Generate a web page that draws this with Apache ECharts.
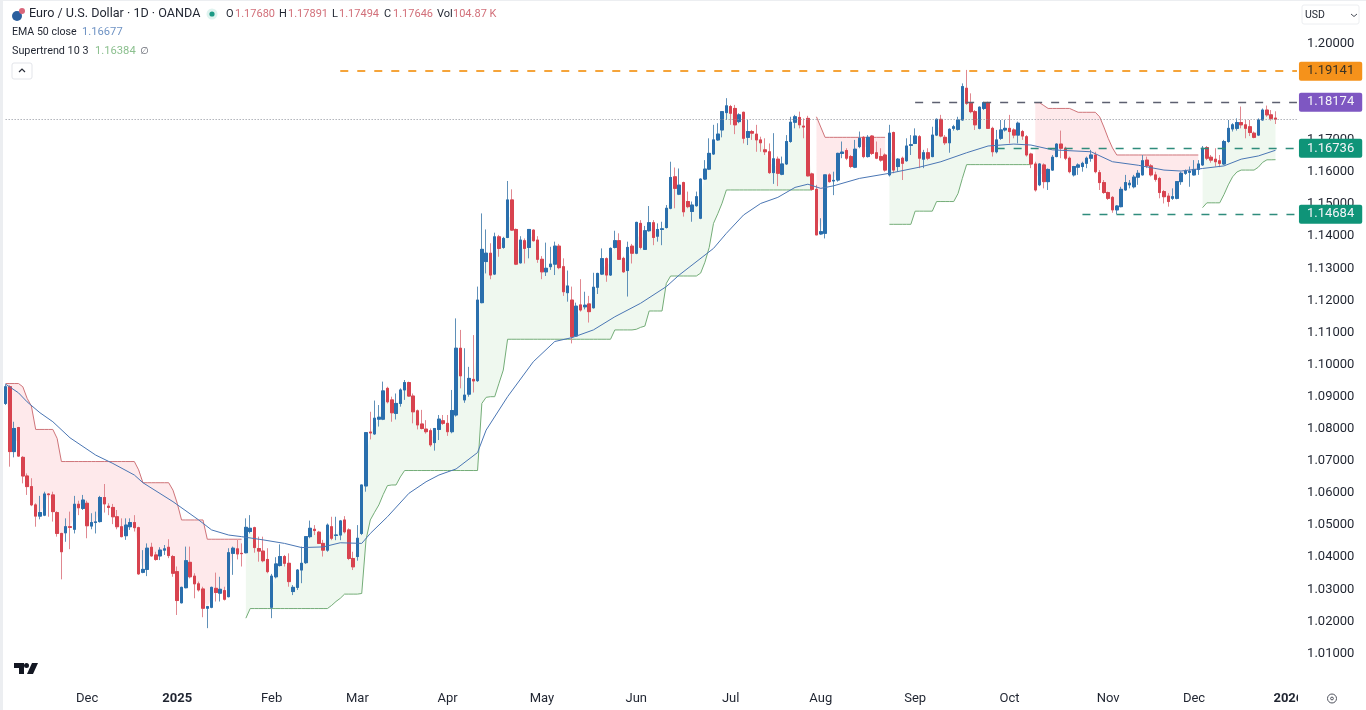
<!DOCTYPE html>
<html><head><meta charset="utf-8"><title>EUR/USD</title>
<style>html,body{margin:0;padding:0;background:#fff}#c{width:1366px;height:710px}</style>
<script src="https://cdn.jsdelivr.net/npm/echarts@6/dist/echarts.min.js"></script>
</head><body><div id="c"></div>
<script>
// rows are open, high, low, close
const barsNovDec = [[1.0879,1.0939,1.0874,1.0931],[1.0931,1.0936,1.0682,1.0729],[1.0729,1.0822,1.0711,1.0801],[1.0804,1.0806,1.0713,1.0715],[1.0711,1.0715,1.0630,1.0653],[1.0653,1.0661,1.0594,1.0620],[1.0620,1.0646,1.0559,1.0563],[1.0563,1.0568,1.0495,1.0528],[1.0528,1.0591,1.0518,1.0539],[1.0531,1.0604,1.0528,1.0597],
[1.0597,1.0599,1.0526,1.0595],[1.0594,1.0604,1.0511,1.0542],[1.0539,1.0543,1.0464,1.0474],[1.0474,1.0476,1.0331,1.0417],[1.0476,1.0521,1.0448,1.0495],[1.0495,1.0542,1.0425,1.0493],[1.0487,1.0591,1.0474,1.0565],[1.0565,1.0576,1.0531,1.0554],[1.0552,1.0594,1.0547,1.0578],[1.0568,1.0576,1.0459,1.0498],
[1.0497,1.0537,1.0487,1.0508],[1.0508,1.0542,1.0474,1.0510],[1.0511,1.0591,1.0508,1.0586],[1.0586,1.0628,1.0539,1.0566],[1.0559,1.0568,1.0531,1.0555],[1.0555,1.0566,1.0503,1.0526],[1.0526,1.0547,1.0487,1.0495],[1.0495,1.0521,1.0462,1.0464],[1.0467,1.0521,1.0454,1.0500],[1.0495,1.0521,1.0485,1.0508],
[1.0508,1.0531,1.0480,1.0492],[1.0492,1.0495,1.0345,1.0348],[1.0353,1.0422,1.0350,1.0362],[1.0362,1.0443,1.0341,1.0428],[1.0431,1.0445,1.0402,1.0404],[1.0407,1.0417,1.0389,1.0393],[1.0404,1.0431,1.0391,1.0422],[1.0422,1.0438,1.0407,1.0426],[1.0431,1.0456,1.0397,1.0405],[1.0402,1.0407,1.0339,1.0350]];
const barsJanMar = [[1.0355,1.0371,1.0220,1.0265],[1.0258,1.0308,1.0256,1.0306],[1.0305,1.0433,1.0303,1.0389],[1.0384,1.0433,1.0334,1.0339],[1.0341,1.0350,1.0272,1.0317],[1.0317,1.0324,1.0293,1.0298],[1.0301,1.0308,1.0213,1.0241],[1.0241,1.0248,1.0179,1.0246],[1.0244,1.0308,1.0241,1.0306],[1.0303,1.0352,1.0262,1.0290],
[1.0288,1.0339,1.0262,1.0300],[1.0296,1.0308,1.0265,1.0269],[1.0277,1.0428,1.0275,1.0414],[1.0412,1.0433,1.0345,1.0428],[1.0426,1.0454,1.0393,1.0410],[1.0412,1.0443,1.0371,1.0411],[1.0414,1.0521,1.0412,1.0493],[1.0480,1.0531,1.0474,1.0490],[1.0492,1.0495,1.0414,1.0430],[1.0427,1.0464,1.0386,1.0419],
[1.0419,1.0464,1.0384,1.0389],[1.0393,1.0428,1.0350,1.0355],[1.0244,1.0348,1.0210,1.0341],[1.0339,1.0400,1.0334,1.0379],[1.0374,1.0440,1.0371,1.0402],[1.0402,1.0407,1.0371,1.0381],[1.0381,1.0412,1.0308,1.0324],[1.0293,1.0313,1.0282,1.0306],[1.0306,1.0363,1.0298,1.0360],[1.0360,1.0433,1.0319,1.0381],
[1.0383,1.0464,1.0379,1.0464],[1.0464,1.0514,1.0459,1.0490],[1.0487,1.0500,1.0469,1.0483],[1.0478,1.0482,1.0441,1.0443],[1.0443,1.0454,1.0402,1.0422],[1.0422,1.0505,1.0417,1.0500],[1.0495,1.0526,1.0453,1.0459],[1.0468,1.0526,1.0453,1.0469],[1.0469,1.0516,1.0453,1.0513],[1.0516,1.0528,1.0474,1.0479],
[1.0485,1.0490,1.0391,1.0396],[1.0396,1.0417,1.0360,1.0370],[1.0402,1.0500,1.0389,1.0459],[1.0474,1.0625,1.0469,1.0625],[1.0622,1.0788,1.0604,1.0788],[1.0790,1.0853,1.0767,1.0787],[1.0784,1.0888,1.0781,1.0833],[1.0830,1.0874,1.0807,1.0836],[1.0830,1.0947,1.0827,1.0918],[1.0926,1.0931,1.0879,1.0884],
[1.0890,1.0900,1.0822,1.0850],[1.0848,1.0910,1.0829,1.0879],[1.0879,1.0926,1.0869,1.0921],[1.0921,1.0952,1.0890,1.0944],[1.0944,1.0947,1.0900,1.0902],[1.0902,1.0910,1.0817,1.0853],[1.0856,1.0860,1.0798,1.0812],[1.0815,1.0859,1.0798,1.0801],[1.0799,1.0827,1.0785,1.0791],[1.0794,1.0801,1.0744,1.0750],
[1.0757,1.0801,1.0732,1.0801],[1.0798,1.0843,1.0765,1.0830]];
const barsAprJun = [[1.0825,1.0843,1.0812,1.0817],[1.0817,1.0843,1.0778,1.0791],[1.0791,1.0921,1.0786,1.0857],[1.0843,1.1144,1.0838,1.1051],[1.1051,1.1108,1.0926,1.0965],[1.0890,1.1051,1.0881,1.0905],[1.0908,1.0993,1.0900,1.0957],[1.0954,1.1092,1.0913,1.0949],[1.0950,1.1243,1.0946,1.1201],[1.1193,1.1471,1.1191,1.1359],
[1.1321,1.1421,1.1284,1.1347],[1.1347,1.1378,1.1266,1.1279],[1.1282,1.1411,1.1279,1.1398],[1.1398,1.1404,1.1336,1.1362],[1.1365,1.1398,1.1361,1.1393],[1.1396,1.1572,1.1394,1.1513],[1.1513,1.1546,1.1417,1.1419],[1.1421,1.1424,1.1310,1.1313],[1.1317,1.1400,1.1315,1.1388],[1.1386,1.1393,1.1315,1.1362],
[1.1365,1.1421,1.1331,1.1421],[1.1419,1.1421,1.1383,1.1386],[1.1388,1.1400,1.1317,1.1328],[1.1328,1.1338,1.1266,1.1289],[1.1289,1.1380,1.1276,1.1300],[1.1305,1.1367,1.1295,1.1313],[1.1313,1.1383,1.1279,1.1369],[1.1369,1.1376,1.1297,1.1302],[1.1305,1.1331,1.1214,1.1227],[1.1224,1.1293,1.1196,1.1245],
[1.1201,1.1243,1.1066,1.1087],[1.1089,1.1193,1.1087,1.1182],[1.1186,1.1266,1.1165,1.1170],[1.1180,1.1227,1.1172,1.1185],[1.1189,1.1214,1.1131,1.1165],[1.1177,1.1286,1.1175,1.1241],[1.1241,1.1286,1.1220,1.1284],[1.1282,1.1362,1.1279,1.1330],[1.1330,1.1334,1.1258,1.1279],[1.1279,1.1365,1.1276,1.1362],
[1.1365,1.1417,1.1362,1.1386],[1.1386,1.1409,1.1326,1.1328],[1.1331,1.1336,1.1286,1.1289],[1.1293,1.1383,1.1212,1.1365],[1.1369,1.1376,1.1315,1.1347],[1.1347,1.1445,1.1344,1.1443],[1.1440,1.1450,1.1359,1.1365],[1.1359,1.1432,1.1357,1.1417],[1.1417,1.1494,1.1414,1.1442],[1.1442,1.1450,1.1372,1.1396],
[1.1400,1.1440,1.1383,1.1421],[1.1421,1.1445,1.1372,1.1423],[1.1427,1.1497,1.1424,1.1487],[1.1487,1.1632,1.1484,1.1583],[1.1585,1.1614,1.1487,1.1549],[1.1531,1.1611,1.1528,1.1559],[1.1567,1.1570,1.1461,1.1476],[1.1508,1.1539,1.1487,1.1492],[1.1477,1.1508,1.1445,1.1497],[1.1495,1.1539,1.1492,1.1523],
[1.1456,1.1580,1.1453,1.1578],[1.1578,1.1637,1.1575,1.1609],[1.1609,1.1705,1.1606,1.1658],[1.1656,1.1747,1.1653,1.1700],[1.1700,1.1752,1.1697,1.1718],[1.1731,1.1788,1.1708,1.1788],[1.1785,1.1830,1.1762,1.1806]];
const barsJulSep = [[1.1804,1.1809,1.1747,1.1783],[1.1798,1.1809,1.1718,1.1747],[1.1757,1.1783,1.1752,1.1778],[1.1786,1.1788,1.1689,1.1705],[1.1708,1.1762,1.1684,1.1726],[1.1726,1.1731,1.1700,1.1721],[1.1718,1.1747,1.1663,1.1700],[1.1700,1.1710,1.1663,1.1691],[1.1669,1.1705,1.1653,1.1663],[1.1663,1.1689,1.1594,1.1598],
[1.1598,1.1721,1.1563,1.1641],[1.1640,1.1648,1.1556,1.1596],[1.1593,1.1648,1.1590,1.1625],[1.1625,1.1715,1.1622,1.1695],[1.1695,1.1772,1.1691,1.1755],[1.1755,1.1778,1.1736,1.1772],[1.1770,1.1788,1.1736,1.1747],[1.1743,1.1767,1.1705,1.1740],[1.1767,1.1775,1.1586,1.1588],[1.1594,1.1598,1.1542,1.1546],
[1.1546,1.1560,1.1404,1.1404],[1.1407,1.1456,1.1404,1.1414],[1.1409,1.1591,1.1393,1.1591],[1.1591,1.1596,1.1567,1.1570],[1.1572,1.1601,1.1528,1.1574],[1.1575,1.1660,1.1570,1.1658],[1.1658,1.1695,1.1643,1.1662],[1.1667,1.1674,1.1637,1.1643],[1.1648,1.1653,1.1612,1.1617],[1.1615,1.1700,1.1612,1.1671],
[1.1679,1.1726,1.1674,1.1705],[1.1708,1.1712,1.1643,1.1648],[1.1648,1.1715,1.1645,1.1708],[1.1712,1.1715,1.1653,1.1658],[1.1660,1.1695,1.1640,1.1643],[1.1648,1.1674,1.1632,1.1637],[1.1653,1.1658,1.1601,1.1606],[1.1591,1.1747,1.1586,1.1721],[1.1723,1.1726,1.1596,1.1606],[1.1617,1.1643,1.1601,1.1640],
[1.1643,1.1648,1.1575,1.1627],[1.1635,1.1705,1.1632,1.1681],[1.1683,1.1715,1.1653,1.1685],[1.1689,1.1736,1.1687,1.1712],[1.1710,1.1715,1.1612,1.1643],[1.1640,1.1669,1.1612,1.1660],[1.1660,1.1674,1.1637,1.1643],[1.1648,1.1741,1.1646,1.1715],[1.1715,1.1767,1.1712,1.1764],[1.1764,1.1778,1.1708,1.1712],
[1.1708,1.1715,1.1684,1.1691],[1.1691,1.1736,1.1660,1.1733],[1.1736,1.1747,1.1729,1.1741],[1.1733,1.1772,1.1729,1.1762],[1.1762,1.1876,1.1760,1.1866],[1.1861,1.1918,1.1809,1.1814],[1.1814,1.1845,1.1783,1.1788],[1.1788,1.1793,1.1731,1.1747],[1.1736,1.1804,1.1733,1.1802],[1.1798,1.1819,1.1793,1.1816],
[1.1816,1.1819,1.1736,1.1736],[1.1736,1.1741,1.1648,1.1663],[1.1663,1.1731,1.1658,1.1700]];
const barsOctDec = [[1.1705,1.1762,1.1700,1.1731],[1.1731,1.1762,1.1726,1.1736],[1.1736,1.1778,1.1689,1.1726],[1.1731,1.1736,1.1705,1.1715],[1.1715,1.1757,1.1689,1.1752],[1.1726,1.1731,1.1700,1.1712],[1.1710,1.1715,1.1648,1.1653],[1.1656,1.1660,1.1612,1.1625],[1.1625,1.1632,1.1539,1.1544],[1.1560,1.1627,1.1556,1.1625],
[1.1622,1.1627,1.1549,1.1570],[1.1570,1.1611,1.1544,1.1608],[1.1606,1.1653,1.1604,1.1646],[1.1648,1.1689,1.1646,1.1687],[1.1687,1.1729,1.1643,1.1674],[1.1674,1.1679,1.1637,1.1643],[1.1643,1.1648,1.1596,1.1601],[1.1591,1.1619,1.1586,1.1617],[1.1615,1.1627,1.1591,1.1622],[1.1617,1.1632,1.1601,1.1627],
[1.1627,1.1648,1.1612,1.1643],[1.1643,1.1669,1.1632,1.1653],[1.1653,1.1663,1.1596,1.1601],[1.1598,1.1606,1.1544,1.1567],[1.1567,1.1575,1.1532,1.1536],[1.1536,1.1539,1.1513,1.1518],[1.1521,1.1525,1.1473,1.1482],[1.1482,1.1497,1.1469,1.1494],[1.1492,1.1554,1.1490,1.1546],[1.1544,1.1591,1.1542,1.1567],
[1.1560,1.1575,1.1549,1.1565],[1.1554,1.1591,1.1549,1.1584],[1.1584,1.1606,1.1560,1.1596],[1.1591,1.1653,1.1589,1.1635],[1.1637,1.1648,1.1612,1.1619],[1.1619,1.1625,1.1586,1.1591],[1.1591,1.1601,1.1570,1.1577],[1.1580,1.1585,1.1518,1.1536],[1.1539,1.1544,1.1502,1.1523],[1.1525,1.1534,1.1492,1.1508],
[1.1518,1.1549,1.1513,1.1523],[1.1518,1.1570,1.1515,1.1570],[1.1570,1.1601,1.1560,1.1596],[1.1596,1.1608,1.1591,1.1603],[1.1599,1.1617,1.1554,1.1602],[1.1591,1.1637,1.1589,1.1608],[1.1608,1.1637,1.1591,1.1625],[1.1622,1.1681,1.1619,1.1674],[1.1676,1.1681,1.1637,1.1643],[1.1646,1.1653,1.1629,1.1637],
[1.1640,1.1674,1.1617,1.1632],[1.1635,1.1653,1.1615,1.1627],[1.1625,1.1700,1.1622,1.1695],[1.1695,1.1762,1.1691,1.1736],[1.1734,1.1752,1.1726,1.1747],[1.1736,1.1767,1.1729,1.1754],[1.1754,1.1804,1.1736,1.1747],[1.1747,1.1762,1.1705,1.1736],[1.1741,1.1762,1.1712,1.1723],[1.1721,1.1726,1.1705,1.1708],
[1.1715,1.1767,1.1712,1.1762],[1.1762,1.1798,1.1760,1.1793],[1.1793,1.1807,1.1772,1.1778],[1.1778,1.1793,1.1760,1.1767],[1.17680,1.17891,1.17494,1.17646]];

const emaBars = [0,3,5,8,11,15,21,25,30,32,39,45,48,52,55,60,65,69,74,78,83,85,89,94,98,101,105,110,112,117,123,128,132,137,142,148,154,157,165,168,172,176,180,184,187,190,193,199,206,213,218,224,229,235,239,244,253,258,264,270,274,279,284,288,292,296];
const emaValues = [1.0939,1.0912,1.0884,1.0850,1.0822,1.0772,1.0718,1.0692,1.0656,1.0632,1.0573,1.0516,1.0485,1.0469,1.0464,1.0454,1.0443,1.0430,1.0432,1.0445,1.0443,1.0474,1.0526,1.0599,1.0635,1.0656,1.0675,1.0726,1.0796,1.0900,1.1009,1.1072,1.1084,1.1108,1.1149,1.1191,1.1243,1.1279,1.1362,1.1409,1.1466,1.1502,1.1521,1.1552,1.1562,1.1549,1.1557,1.1580,1.1596,1.1615,1.1632,1.1660,1.1681,1.1687,1.1684,1.1669,1.1663,1.1632,1.1621,1.1606,1.1603,1.1611,1.1619,1.1640,1.1650,1.16677];

const stDown1 = [1.0941,1.0941,1.0941,1.0941,1.0931,1.0895,1.0871,1.0798,1.0798,1.0798,1.0798,1.0798,1.0770,1.0698,1.0698,1.0698,1.0698,1.0698,1.0698,1.0698,1.0698,1.0698,1.0698,1.0698,1.0698,1.0698,1.0698,1.0698,1.0698,1.0698,1.0698,1.0672,1.0632,1.0632,1.0632,1.0632,1.0632,1.0632,1.0632,1.0609,1.0568,1.0516,1.0516,1.0516,1.0516,1.0516,1.0516,1.0456,1.0456,1.0456,1.0456,1.0456,1.0456,1.0456,1.0456,1.0456];
const stUp1 = [1.0210,1.0240,1.0240,1.0240,1.0240,1.0240,1.0240,1.0240,1.0240,1.0240,1.0240,1.0240,1.0240,1.0240,1.0240,1.0240,1.0240,1.0240,1.0240,1.0240,1.0250,1.0262,1.0272,1.0285,1.0285,1.0285,1.0285,1.0287,1.0454,1.0516,1.0540,1.0563,1.0595,1.0623,1.0625,1.0625,1.0650,1.0670,1.0670,1.0670,1.0670,1.0670,1.0670,1.0670,1.0670,1.0670,1.0670,1.0670,1.0670,1.0670,1.0670,1.0670,1.0670,1.0670,1.0670,1.0879,1.0898,1.0900,1.0900,1.0942,1.0983,1.1079,1.1079,1.1079,1.1079,1.1079,1.1079,1.1079,1.1079,1.1079,1.1079,1.1079,1.1079,1.1079,1.1079,1.1079,1.1079,1.1079,1.1079,1.1079,1.1079,1.1079,1.1079,1.1079,1.1079,1.1079,1.1108,1.1108,1.1108,1.1108,1.1108,1.1110,1.1116,1.1120,1.1167,1.1167,1.1167,1.1167,1.1253,1.1276,1.1276,1.1276,1.1276,1.1276,1.1276,1.1276,1.1285,1.1319,1.1365,1.1440,1.1470,1.1503,1.1544,1.1544,1.1544,1.1544,1.1544,1.1544,1.1544,1.1544,1.1544,1.1544,1.1544,1.1544,1.1544,1.1544,1.1544,1.1544,1.1544,1.1544,1.1544,1.1544,1.1544];
const stDown2 = [1.1772,1.1740,1.1708,1.1708,1.1708,1.1708,1.1708,1.1708,1.1708,1.1708,1.1708,1.1708,1.1708,1.1708,1.1708,1.1708,1.1708];
const stUp2 = [1.1437,1.1437,1.1437,1.1437,1.1437,1.1437,1.1478,1.1478,1.1478,1.1478,1.1478,1.1508,1.1508,1.1508,1.1508,1.1508,1.1533,1.1580,1.1623,1.1623,1.1623,1.1623,1.1623,1.1623,1.1623,1.1623,1.1623,1.1623,1.1623,1.1623,1.1623,1.1623,1.1623,1.1623];
const stDown3 = [1.1816,1.1816,1.1807,1.1798,1.1798,1.1798,1.1798,1.1798,1.1798,1.1792,1.1786,1.1786,1.1786,1.1786,1.1786,1.1772,1.1740,1.1705,1.1675,1.1653,1.1653,1.1653,1.1653,1.1653,1.1653,1.1653,1.1653,1.1653,1.1653,1.1653,1.1653,1.1653,1.1653,1.1653,1.1653,1.1653,1.1653,1.1653,1.1653];
const stUp3 = [1.1489,1.1504,1.1504,1.1504,1.1504,1.1530,1.1560,1.1585,1.1600,1.1606,1.1606,1.1606,1.1606,1.1615,1.1630,1.1638,1.1638,1.16384];
const stStarts = {down1:0, up1:56, down2:189, up2:206, down3:240, up3:279};

const levelValues = [1.19141, 1.18174, 1.16736, 1.14684];
const levelStarts = [78, 212, 231, 251];
const levelColors = ['#f5921b', '#7e57c2', '#0f9478', '#0f9478'];
const levelLineColors = ['#f5a43a', '#5d6070', '#2f8c7c', '#2f8c7c'];
const lastClose = 1.17646;

const tickBars = [19,40,62,82,103,125,147,169,190,212,234,257,277,299];
const tickLabels = ['Dec','2025','Feb','Mar','Apr','May','Jun','Jul','Aug','Sep','Oct','Nov','Dec','2026'];
const barCount = 302;

const ohlcKeys = ['O','H','L','C','Vol'];
const ohlcText = ['1.17680','1.17891','1.17494','1.17646','104.87 K'];
const ohlcKeyX = [226,279,332,384,437];
const ohlcValX = [235,288,339,393,453];

const UP = '#2a6fad', DOWN = '#d8434f', WICK_UP = '#5f90b8', WICK_DOWN = '#e08890';
const FONT = 'Roboto, "Liberation Sans", sans-serif', INK = '#1f2430';

const bars = [].concat(barsNovDec, barsJanMar, barsAprJun, barsJulSep, barsOctDec);
const categories = Array.from({length: barCount}, (_, i) => { const t = tickBars.indexOf(i); return t >= 0 ? tickLabels[t] : ''; });
const wickData = bars.map(b => [b[0], b[3], b[2], b[1]]);
const bodyData = bars.map(b => [b[0], b[3], Math.min(b[0], b[3]), Math.max(b[0], b[3])]);
const mids = bars.map(b => (b[0] + b[3]) / 2);

function placed(pairs) {
  const out = new Array(barCount).fill(null);
  pairs.forEach(([start, vals]) => vals.forEach((v, i) => { out[start + i] = v; }));
  return out;
}
const redLine = placed([[stStarts.down1, stDown1], [stStarts.down2, stDown2], [stStarts.down3, stDown3]]);
const greenLine = placed([[stStarts.up1, stUp1], [stStarts.up2, stUp2], [stStarts.up3, stUp3]]);
const RED_FILL = 'rgba(242,54,69,0.11)', GREEN_FILL = 'rgba(76,175,80,0.09)';
const fillSegments = [
  {s: stStarts.down1, v: stDown1, c: RED_FILL}, {s: stStarts.up1, v: stUp1, c: GREEN_FILL},
  {s: stStarts.down2, v: stDown2, c: RED_FILL}, {s: stStarts.up2, v: stUp2, c: GREEN_FILL},
  {s: stStarts.down3, v: stDown3, c: RED_FILL}, {s: stStarts.up3, v: stUp3, c: GREEN_FILL}
];

const levelLines = levelValues.map((v, i) => [
  {coord: [levelStarts[i], v], lineStyle: {color: levelLineColors[i], type: [8, 9], width: i === 0 ? 1.8 : 1.3},
   label: {show: true, position: 'end', distance: 2, formatter: v.toFixed(5), color: i === 0 ? '#3a3326' : '#f4f4f8',
     backgroundColor: levelColors[i], padding: [4, 8, 2, 8], borderRadius: 2, fontFamily: FONT, fontSize: 13}},
  {coord: [barCount - 1, v]}
]);

const headerGraphics = [];
ohlcKeys.forEach((k, i) => {
  headerGraphics.push({type: 'text', z: 60, x: ohlcKeyX[i], y: 14, style: {text: k, font: '11px ' + FONT, fill: INK, verticalAlign: 'middle'}});
  headerGraphics.push({type: 'text', z: 60, x: ohlcValX[i], y: 14, style: {text: ohlcText[i], font: '11px ' + FONT, fill: '#d2707a', verticalAlign: 'middle'}});
});

const chart = echarts.init(document.getElementById('c'), null, {renderer: 'canvas'});
chart.setOption({
  animation: false,
  backgroundColor: '#fff',
  grid: {left: 3.5, right: 66.9, top: 11.5, height: 674.1},
  xAxis: {type: 'category', data: categories, boundaryGap: true,
    axisLine: {show: false}, axisTick: {show: false}, splitLine: {show: false},
    axisLabel: {interval: i => tickBars.includes(i), hideOverlap: false, margin: 7, fontFamily: FONT, fontSize: 13, color: INK,
      formatter: v => /^20/.test(v) ? '{b|' + v + '}' : v,
      rich: {b: {fontFamily: FONT, fontSize: 13, fontWeight: 700, color: INK}}}},
  yAxis: {type: 'value', position: 'right', min: 1.00, max: 1.21, interval: 0.01,
    axisLine: {show: false}, axisTick: {show: false}, splitLine: {show: false},
    axisLabel: {margin: 8, padding: [2, 0, 0, 0], fontFamily: FONT, fontSize: 13, color: INK,
      formatter: v => (v < 1.005 || v > 1.205) ? '' : v.toFixed(5)}},
  series: [
    {type: 'custom', z: 1, silent: true, clip: false, data: fillSegments.map((s, i) => [i, 1.1]), encode: {x: 0, y: 1},
      renderItem: (p, api) => {
        const seg = fillSegments[p.dataIndex];
        const pts = seg.v.map((v, i) => api.coord([seg.s + i, v]));
        for (let i = seg.v.length - 1; i >= 0; i--) pts.push(api.coord([seg.s + i, mids[seg.s + i]]));
        return {type: 'polygon', shape: {points: pts}, style: {fill: seg.c}};
      }},
    {type: 'line', z: 2, data: redLine, showSymbol: false, connectNulls: false, silent: true, lineStyle: {color: '#cf7479', width: 1}},
    {type: 'line', z: 2, data: greenLine, showSymbol: false, connectNulls: false, silent: true, lineStyle: {color: '#74ad78', width: 1}},
    {type: 'candlestick', z: 3, data: wickData, barWidth: 3, silent: true,
      itemStyle: {color: WICK_UP, color0: WICK_DOWN, borderColor: WICK_UP, borderColor0: WICK_DOWN, borderWidth: 1}},
    {type: 'candlestick', z: 3, data: bodyData, barWidth: 3, silent: true,
      itemStyle: {color: UP, color0: DOWN, borderColor: UP, borderColor0: DOWN, borderWidth: 1}},
    {type: 'line', z: 4, data: emaBars.map((b, i) => [b, emaValues[i]]), showSymbol: false, silent: true, lineStyle: {color: '#4a76b4', width: 1}},
    {type: 'line', z: 5, data: [], silent: true, symbol: 'none',
      markLine: {silent: true, symbol: 'none', animation: false, data: levelLines.concat([[
        {coord: [0, lastClose], lineStyle: {color: '#8a8e98', type: [1, 2], width: 1}, label: {show: false}}, {coord: [barCount - 1, lastClose]}
      ]])}}
  ],
  graphic: headerGraphics.concat([
    {type: 'rect', z: 50, shape: {x: 0, y: 0, width: 3, height: 710}, style: {fill: '#eceef1'}},
    {type: 'rect', z: 50, shape: {x: 0, y: 0, width: 1366, height: 1}, style: {fill: '#eceef1'}},
    {type: 'rect', z: 50, shape: {x: 1298, y: 688, width: 22, height: 20}, style: {fill: '#fff'}},
    {type: 'circle', z: 60, shape: {cx: 17, cy: 16, r: 5}, style: {fill: '#2b5f9e'}},
    {type: 'circle', z: 61, shape: {cx: 22, cy: 11, r: 3}, style: {fill: '#d9667a'}},
    {type: 'text', z: 60, x: 29, y: 14, style: {text: 'Euro / U.S. Dollar · 1D · OANDA', font: '12.6px ' + FONT, fill: INK, verticalAlign: 'middle'}},
    {type: 'circle', z: 60, shape: {cx: 212, cy: 14, r: 5.5}, style: {fill: '#dff3ef'}},
    {type: 'circle', z: 61, shape: {cx: 212, cy: 14, r: 2.6}, style: {fill: '#1b9a85'}},
    {type: 'text', z: 60, x: 12, y: 32, style: {text: 'EMA 50 close', font: '10.6px ' + FONT, fill: INK, verticalAlign: 'middle'}},
    {type: 'text', z: 60, x: 82, y: 32, style: {text: '1.16677', font: '11.2px ' + FONT, fill: '#6f93c4', verticalAlign: 'middle'}},
    {type: 'text', z: 60, x: 12, y: 51, style: {text: 'Supertrend 10 3', font: '10.8px ' + FONT, fill: INK, verticalAlign: 'middle'}},
    {type: 'text', z: 60, x: 95, y: 51, style: {text: '1.16384', font: '11.2px ' + FONT, fill: '#8cc08f', verticalAlign: 'middle'}},
    {type: 'text', z: 60, x: 140, y: 51, style: {text: '∅', font: '10px "DejaVu Sans"', fill: '#5d606b', verticalAlign: 'middle'}},
    {type: 'rect', z: 60, shape: {x: 12, y: 63, width: 20, height: 16, r: 2}, style: {fill: '#fff', stroke: '#e3e5ea', lineWidth: 1}},
    {type: 'polyline', z: 61, shape: {points: [[19, 72], [22, 69], [25, 72]]}, style: {stroke: '#2a2e39', lineWidth: 1.2, fill: 'none'}},
    {type: 'rect', z: 60, shape: {x: 1302, y: 5, width: 57, height: 19, r: 2}, style: {fill: '#fff', stroke: '#eceef1', lineWidth: 1}},
    {type: 'text', z: 61, x: 1305, y: 15, style: {text: 'USD', font: '10.5px ' + FONT, fill: INK, verticalAlign: 'middle'}},
    {type: 'polyline', z: 61, shape: {points: [[1351, 14], [1354, 16.5], [1357, 14]]}, style: {stroke: '#4a4e59', lineWidth: 1, fill: 'none'}},
    {type: 'polygon', z: 60, shape: {points: [[14, 663], [24, 663], [24, 674], [19, 674], [19, 668], [14, 668]]}, style: {fill: '#131722'}},
    {type: 'circle', z: 60, shape: {cx: 26.5, cy: 665.5, r: 2.5}, style: {fill: '#131722'}},
    {type: 'polygon', z: 60, shape: {points: [[32, 663], [38, 663], [33, 674], [27, 674]]}, style: {fill: '#131722'}},
    {type: 'circle', z: 60, shape: {cx: 1332, cy: 698.5, r: 4.5}, style: {fill: 'none', stroke: '#50535e', lineWidth: 1}},
    {type: 'circle', z: 60, shape: {cx: 1332, cy: 698.5, r: 1.4}, style: {fill: 'none', stroke: '#50535e', lineWidth: 1}}
  ])
});
</script></body></html>
